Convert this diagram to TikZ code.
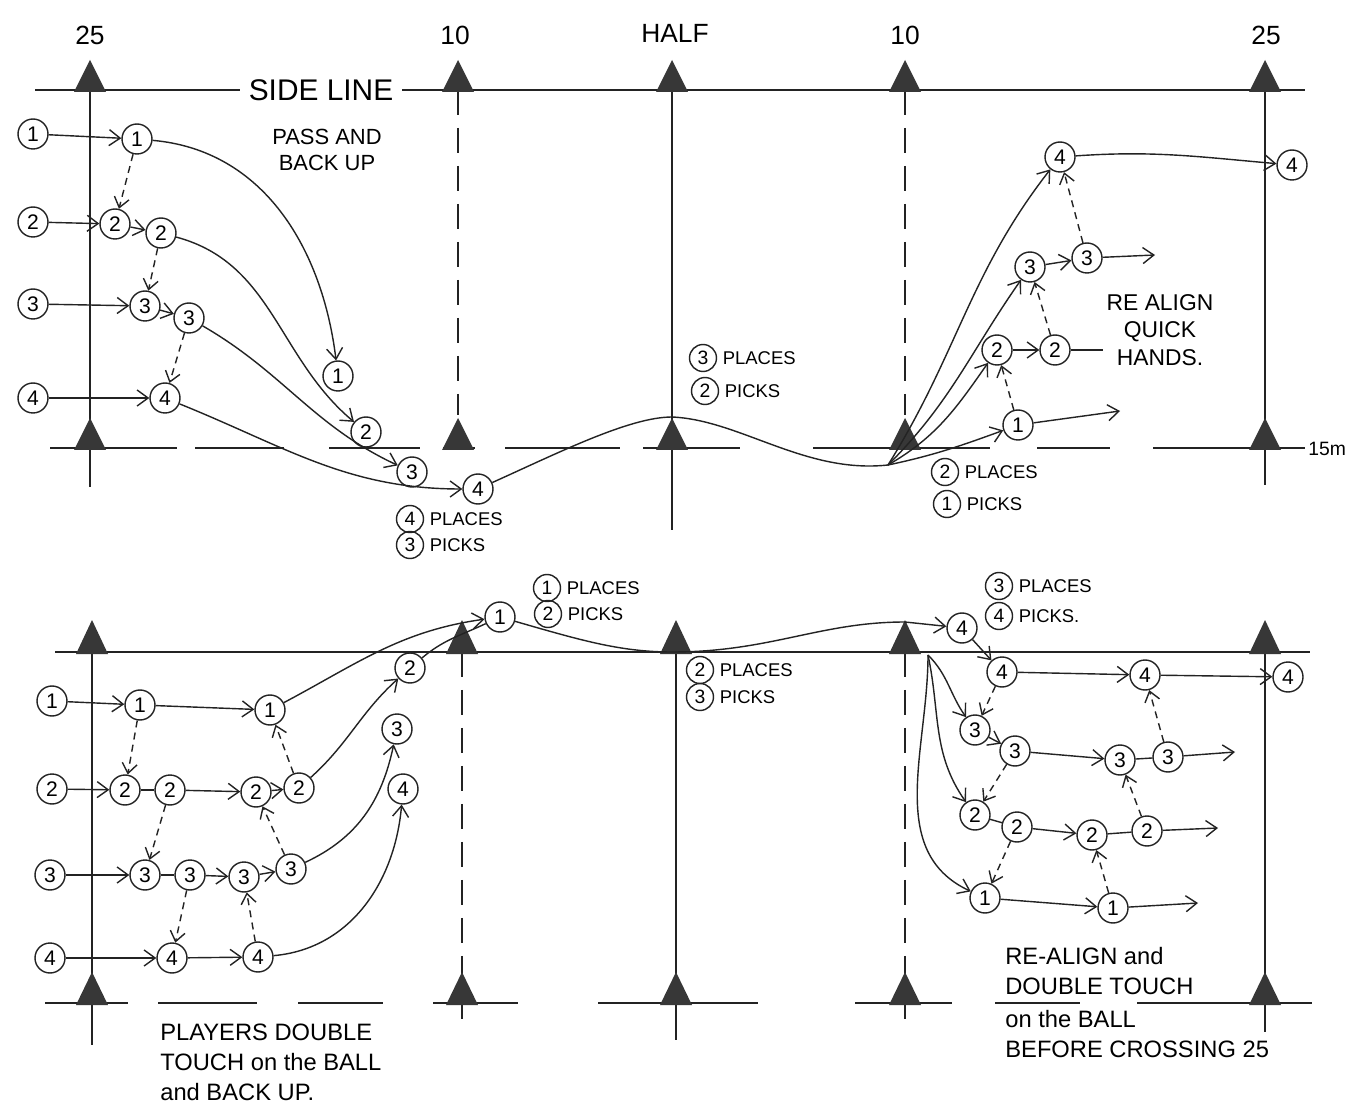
\documentclass[tikz,border=0pt]{standalone}
\usepackage{fontspec}
\setmainfont{Liberation Sans}
\usetikzlibrary{positioning,arrows.meta,calc}
\definecolor{Ink}{RGB}{35,35,35}
\definecolor{ConeGrey}{RGB}{55,55,55}
\tikzset{
  field/.style={line width=1pt,draw=Ink},
  dashfield/.style={line width=1pt,draw=Ink,dash pattern=on 0.5cm off 0.26cm},
  flow/.style={-{Straight Barb[length=2.2mm,width=3.2mm]},line width=0.8pt,draw=Ink},
  plainflow/.style={line width=0.8pt,draw=Ink},
  dashflow/.style={-{Straight Barb[length=2mm,width=3mm]},line width=0.8pt,draw=Ink,
    dash pattern=on 4pt off 3pt},
  player/.style={circle,draw=Ink,line width=0.8pt,fill=white,minimum size=0.6cm,
    inner sep=0pt,font=\fontsize{12}{12}\selectfont},
  tagcircle/.style={circle,draw=Ink,line width=0.8pt,minimum size=0.54cm,
    inner sep=0pt,font=\fontsize{11}{11}\selectfont},
  note/.style={font=\fontsize{10.5}{12}\selectfont,inner sep=1pt},
  yardlabel/.style={font=\fontsize{15}{15}\selectfont,inner sep=0pt},
  bignote/.style={font=\fontsize{13.5}{17}\selectfont,align=left,inner sep=0pt}
}
\begin{document}
\begin{tikzpicture}[x=0.02cm,y=-0.02cm,node distance=2pt]
  \useasboundingbox[fill=white] (0,0) rectangle (1349,1114);
  % top field
  \node[yardlabel] (ty25l) at (90,35) {25};
  \node[yardlabel] (ty10l) at (455,35) {10};
  \node[yardlabel] (tyhalf) at (675,33) {HALF};
  \node[yardlabel] (ty10r) at (905,35) {10};
  \node[yardlabel] (ty25r) at (1266,35) {25};
  \node[yardlabel,font=\fontsize{17}{17}\selectfont,inner sep=5pt] (sideline) at (321,90) {SIDE LINE};
  \node[yardlabel,anchor=west,font=\fontsize{11}{11}\selectfont] (fifteen) at (1308,449) {15m};
  \draw[field] (35,90) -- (sideline.west);
  \draw[field] (sideline.east) -- (1305,90);
  \draw[field] (90,90) -- (90,487);
  \draw[dashfield] (458,90) -- (458,415);
  \draw[field] (672,90) -- (672,530);
  \draw[dashfield] (905,90) -- (905,415);
  \draw[field] (1265,90) -- (1265,485);
  \foreach \a/\b in {50/177,195/284,329/420,443/475,505/620,643/740,813/990,1037/1110,1153/1305}
    \draw[field] (\a,448) -- (\b,448);
  \foreach \x in {90,458,672,905,1265} {
    \fill[ConeGrey] (\x-16,92) -- (\x,60) -- (\x+16,92) -- cycle;
    \fill[ConeGrey] (\x-16,450) -- (\x,418) -- (\x+16,450) -- cycle;
  }

  % bottom field
  \draw[field] (55,652) -- (1310,652);
  \draw[field] (92,652) -- (92,1045);
  \draw[dashfield] (462,652) -- (462,1030);
  \draw[field] (676,652) -- (676,1040);
  \draw[dashfield] (905,652) -- (905,1030);
  \draw[field] (1265,652) -- (1265,1032);
  \foreach \a/\b in {45/128,158/257,298/383,433/518,598/758,855/952,995/1080,1137/1312}
    \draw[field] (\a,1003) -- (\b,1003);
  \foreach \x in {92,462,676,905,1265} {
    \fill[ConeGrey] (\x-16,654) -- (\x,620) -- (\x+16,654) -- cycle;
    \fill[ConeGrey] (\x-16,1005) -- (\x,972) -- (\x+16,1005) -- cycle;
  }

  % top drill
  \node[player] (t1a) at (33,134) {1};
  \node[player] (t1b) at (137,139) {1};
  \node[player] (t1c) at (338,376) {1};
  \node[player] (t1d) at (1018,425) {1};
  \node[player] (t2a) at (33,222) {2};
  \node[player] (t2b) at (115,224) {2};
  \node[player] (t2c) at (161,233) {2};
  \node[player] (t2d) at (366,432) {2};
  \node[player] (t2e) at (997,350) {2};
  \node[player] (t2f) at (1055,350) {2};
  \node[player] (t3a) at (33,304) {3};
  \node[player] (t3b) at (145,306) {3};
  \node[player] (t3c) at (189,318) {3};
  \node[player] (t3d) at (412,472) {3};
  \node[player] (t3e) at (1030,267) {3};
  \node[player] (t3f) at (1087,258) {3};
  \node[player] (t4a) at (33,398) {4};
  \node[player] (t4b) at (165,398) {4};
  \node[player] (t4c) at (478,489) {4};
  \node[player] (t4d) at (1060,157) {4};
  \node[player] (t4e) at (1292,165) {4};
  \coordinate (thalf) at (672,417);
  \coordinate (tfork) at (888,465);
  \coordinate (t1end) at (1120,411);
  \coordinate (t2end) at (1103,350);
  \coordinate (t3end) at (1155,255);

  \draw[flow] (t1a) -- (t1b);
  \draw[flow] (t2a) -- (t2b);
  \draw[flow] (t2b) -- (t2c);
  \draw[flow] (t3a) -- (t3b);
  \draw[flow] (t3b) -- (t3c);
  \draw[flow] (t4a) -- (t4b);
  \draw[dashflow] (t1b) -- (t2b);
  \draw[dashflow] (t2c) -- (t3b);
  \draw[dashflow] (t3c) -- (t4b);
  \draw[flow] (t1b) to[out=-5,in=97] (t1c);
  \draw[flow] (t2c) to[out=-15,in=140] (t2d);
  \draw[flow] (t3c) to[out=-30,in=155] (t3d);
  \draw[flow] (t4b) to[out=-22,in=180] (t4c);
  \draw[plainflow] (t4c) .. controls (560,452) and (630,417) .. (thalf)
    .. controls (740,420) and (805,474) .. (tfork);
  \draw[flow] (tfork) to[out=12,in=200] (t1d);
  \draw[flow] (tfork) to[out=30,in=235] (t2e);
  \draw[flow] (tfork) to[out=45,in=235] (t3e);
  \draw[flow] (tfork) to[out=58,in=232] (t4d);
  \draw[flow] (t2e) -- (t2f);
  \draw[flow] (t3e) -- (t3f);
  \draw[flow] (t4d) to[out=4,in=175] (t4e);
  \draw[flow] (t1d) -- (t1end);
  \draw[plainflow] (t2f) -- (t2end);
  \draw[flow] (t3f) -- (t3end);
  \draw[dashflow] (t1d) -- (t2e);
  \draw[dashflow] (t2f) -- (t3e);
  \draw[dashflow] (t3f) -- (t4d);

  \node[bignote,align=center,font=\fontsize{12.5}{15}\selectfont] (passnote) at (327,150) {PASS AND\\BACK UP};
  \node[tagcircle] (tpl4) at (410,519) {4};
  \node[note,right=of tpl4] (tpl4txt) {PLACES};
  \node[tagcircle] (tpk3) at (410,545) {3};
  \node[note,right=of tpk3] (tpk3txt) {PICKS};
  \node[tagcircle] (tpl3) at (703,358) {3};
  \node[note,right=of tpl3] (tpl3txt) {PLACES};
  \node[tagcircle] (tpk2) at (705,391) {2};
  \node[note,right=of tpk2] (tpk2txt) {PICKS};
  \node[tagcircle] (tpl2) at (945,472) {2};
  \node[note,right=of tpl2] (tpl2txt) {PLACES};
  \node[tagcircle] (tpk1) at (947,504) {1};
  \node[note,right=of tpk1] (tpk1txt) {PICKS};
  \node[bignote,align=center,font=\fontsize{13}{15.5}\selectfont] (realign) at (1160,330) {RE ALIGN\\QUICK\\HANDS.};

  % bottom drill
  \node[player] (b1a) at (52,701) {1};
  \node[player] (b1b) at (140,705) {1};
  \node[player] (b1c) at (270,710) {1};
  \node[player] (b1d) at (500,617) {1};
  \node[player] (b2a) at (52,789) {2};
  \node[player] (b2b) at (125,790) {2};
  \node[player] (b2c) at (170,790) {2};
  \node[player] (b2d) at (256,792) {2};
  \node[player] (b2e) at (299,788) {2};
  \node[player] (b2f) at (410,668) {2};
  \node[player] (b3a) at (50,875) {3};
  \node[player] (b3b) at (145,875) {3};
  \node[player] (b3c) at (190,875) {3};
  \node[player] (b3d) at (244,877) {3};
  \node[player] (b3e) at (291,869) {3};
  \node[player] (b3f) at (397,729) {3};
  \node[player] (b4a) at (50,958) {4};
  \node[player] (b4b) at (172,958) {4};
  \node[player] (b4c) at (258,957) {4};
  \node[player] (b4d) at (403,789) {4};
  \node[player] (b4e) at (962,628) {4};
  \node[player] (b4f) at (1002,672) {4};
  \node[player] (b4g) at (1145,675) {4};
  \node[player] (b4h) at (1288,677) {4};
  \node[player] (b3g) at (975,730) {3};
  \node[player] (b3h) at (1015,751) {3};
  \node[player] (b3i) at (1120,760) {3};
  \node[player] (b3j) at (1168,757) {3};
  \node[player] (b2g) at (975,815) {2};
  \node[player] (b2h) at (1017,827) {2};
  \node[player] (b2i) at (1092,835) {2};
  \node[player] (b2j) at (1147,831) {2};
  \node[player] (b1e) at (985,898) {1};
  \node[player] (b1f) at (1113,908) {1};
  \coordinate (bhalf) at (672,652);
  \coordinate (b10) at (905,622);
  \coordinate (bfork) at (928,655);
  \coordinate (b3end) at (1235,752);
  \coordinate (b2end) at (1218,828);
  \coordinate (b1end) at (1198,903);

  \draw[flow] (b1a) -- (b1b);
  \draw[flow] (b1b) -- (b1c);
  \draw[flow] (b2a) -- (b2b);
  \draw[plainflow] (b2b) -- (b2c);
  \draw[flow] (b2c) -- (b2d);
  \draw[flow] (b2d) -- (b2e);
  \draw[flow] (b3a) -- (b3b);
  \draw[plainflow] (b3b) -- (b3c);
  \draw[flow] (b3c) -- (b3d);
  \draw[flow] (b3d) -- (b3e);
  \draw[flow] (b4a) -- (b4b);
  \draw[flow] (b4b) -- (b4c);
  \draw[dashflow] (b1b) -- (b2b);
  \draw[dashflow] (b2c) -- (b3b);
  \draw[dashflow] (b3c) -- (b4b);
  \draw[dashflow] (b4c) -- (b3d);
  \draw[dashflow] (b3e) -- (b2d);
  \draw[dashflow] (b2e) -- (b1c);
  \draw[flow] (b1c) to[out=28,in=188] (b1d);
  \draw[plainflow] (b2f) to[out=40,in=205] (b1d);
  \draw[flow] (b2e) to[out=42,in=222] (b2f);
  \draw[flow] (b3e) to[out=25,in=258] (b3f);
  \draw[flow] (b4c) to[out=5,in=265] (b4d);
  \draw[flow] (b1d) .. controls (580,640) and (620,652) .. (bhalf)
    .. controls (770,652) and (820,622) .. (b10) -- (b4e);
  \draw[flow] (b4e) -- (b4f);
  \draw[flow] (b4f) -- (b4g);
  \draw[flow] (b4g) -- (b4h);
  \draw[flow] (bfork) to[out=-45,in=125] (b3g);
  \draw[flow] (bfork) to[out=-78,in=125] (b2g);
  \draw[flow] (bfork) to[out=-90,in=155] (b1e);
  \draw[flow] (b3g) -- (b3h);
  \draw[flow] (b3h) -- (b3i);
  \draw[plainflow] (b3i) -- (b3j);
  \draw[flow] (b3j) -- (b3end);
  \draw[plainflow] (b2g) -- (b2h);
  \draw[flow] (b2h) -- (b2i);
  \draw[plainflow] (b2i) -- (b2j);
  \draw[flow] (b2j) -- (b2end);
  \draw[flow] (b1e) -- (b1f);
  \draw[flow] (b1f) -- (b1end);
  \draw[dashflow] (b4f) -- (b3g);
  \draw[dashflow] (b3h) -- (b2g);
  \draw[dashflow] (b2h) -- (b1e);
  \draw[dashflow] (b1f) -- (b2i);
  \draw[dashflow] (b2j) -- (b3i);
  \draw[dashflow] (b3j) -- (b4g);

  \node[tagcircle] (bpl1) at (547,588) {1};
  \node[note,right=of bpl1] (bpl1txt) {PLACES};
  \node[tagcircle] (bpk2) at (548,614) {2};
  \node[note,right=of bpk2] (bpk2txt) {PICKS};
  \node[tagcircle] (bpl2) at (700,670) {2};
  \node[note,right=of bpl2] (bpl2txt) {PLACES};
  \node[tagcircle] (bpk3) at (700,697) {3};
  \node[note,right=of bpk3] (bpk3txt) {PICKS};
  \node[tagcircle] (bpl3) at (999,586) {3};
  \node[note,right=of bpl3] (bpl3txt) {PLACES};
  \node[tagcircle] (bpk4) at (999,616) {4};
  \node[note,right=of bpk4] (bpk4txt) {PICKS.};
  \node[bignote,anchor=north west] (doublenote) at (160,1024) {PLAYERS DOUBLE\\TOUCH on the BALL\\and BACK UP.};
  \node[bignote,anchor=south west] (realignnote) at (1005,995) {RE-ALIGN and\\DOUBLE TOUCH};
  \node[bignote,anchor=north west] (crossnote) at (1005,1010) {on the BALL\\BEFORE CROSSING 25};
\end{tikzpicture}
\end{document}
